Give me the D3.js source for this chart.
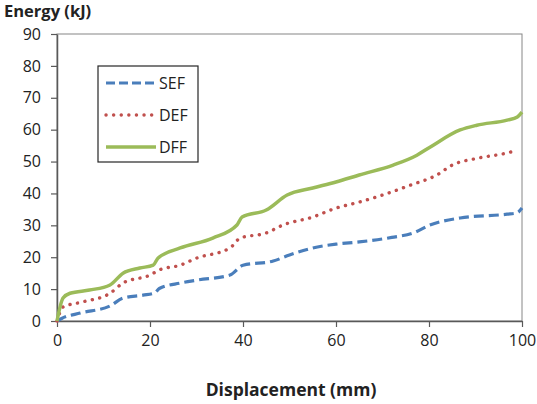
<!DOCTYPE html>
<html>
<head>
<meta charset="utf-8">
<script src="https://cdn.jsdelivr.net/npm/d3@7"></script>
<style>
  body { margin: 0; background: #fff; }
  svg { font-family: "Open Sans", "Noto Sans", sans-serif; }
</style>
</head>
<body>
<svg></svg>
<script>
const width = 537;
const height = 404;
const margin = { top: 34, right: 15, bottom: 83, left: 57 };

const xTicks = [0, 20, 40, 60, 80, 100];
const yTicks = [0, 10, 20, 30, 40, 50, 60, 70, 80, 90];

const sefData = [
  [0, 0], [1, 0.8], [5, 2.5], [11.4, 4.7], [14.2, 7.2], [18.5, 8.1], [21, 8.8], [22, 10.2],
  [26.5, 11.9], [30, 12.8], [37.2, 14.4], [40, 17.5], [46.5, 18.8], [50, 20.7], [55, 22.9],
  [60, 24.1], [65, 24.8], [72, 26.2], [76.6, 27.6], [80.2, 30.1], [86.7, 32.3], [96.8, 33.5],
  [98.9, 33.9], [100, 35.4]
];
const defData = [
  [0, 0], [1.3, 4.4], [5.6, 6], [11.4, 8.7], [14.2, 11.9], [20, 14.4], [22, 16],
  [26.5, 17.5], [30, 19.7], [37.2, 22.9], [39.4, 26], [45, 27.6], [48.6, 30.1], [55, 32.6],
  [60, 35.4], [65, 37.3], [70, 39.5], [76, 42.6], [81.7, 45.8], [85, 48.9], [90.3, 51],
  [96.8, 52.7], [99, 53.6]
];
const dffData = [
  [0, 0], [1.3, 7.2], [2.8, 8.7], [7, 9.7], [11.4, 11.3], [14.2, 15], [17.8, 16.6],
  [20.7, 17.5], [21.7, 19.7], [26.5, 22.9], [33.5, 26], [38.7, 30.1], [39.8, 32.6],
  [45, 34.8], [49.5, 39.5], [55, 41.7], [60, 43.6], [65, 45.8], [72.3, 48.9], [77.4, 52],
  [80.2, 54.5], [86.7, 59.9], [90.3, 61.4], [96.8, 63], [99, 64], [100, 65.5]
];

const series = [
  { name: 'SEF', data: sefData, color: '#4a7ebb', dash: '10,5', width: 3.2, cap: 'butt' },
  { name: 'DEF', data: defData, color: '#c0504d', dash: '0.1,7.5', width: 3.4, cap: 'round' },
  { name: 'DFF', data: dffData, color: '#9bbb59', dash: null, width: 3.5, cap: 'butt' }
];

const svg = d3.select('svg')
  .attr('width', width)
  .attr('height', height);

const xScale = d3.scaleLinear()
  .domain([0, 100])
  .range([margin.left, width - margin.right]);

const yScale = d3.scaleLinear()
  .domain([0, 90])
  .range([height - margin.bottom, margin.top]);

// plot frame
svg.append('rect')
  .attr('x', xScale(0))
  .attr('y', yScale(90))
  .attr('width', xScale(100) - xScale(0))
  .attr('height', yScale(0) - yScale(90))
  .attr('fill', 'none')
  .attr('stroke', '#868686')
  .attr('stroke-width', 1);

const xAxis = d3.axisBottom(xScale)
  .tickValues(xTicks)
  .tickSizeInner(6)
  .tickSizeOuter(0)
  .tickPadding(8);

const yAxis = d3.axisLeft(yScale)
  .tickValues(yTicks)
  .tickSizeInner(6)
  .tickSizeOuter(0)
  .tickPadding(10);

const gx = svg.append('g')
  .attr('transform', `translate(0, ${yScale(0)})`)
  .call(xAxis);

const gy = svg.append('g')
  .attr('transform', `translate(${xScale(0)}, 0)`)
  .call(yAxis);

[gx, gy].forEach(g => {
  g.select('.domain').attr('stroke', '#595959').attr('stroke-width', 1.5);
  g.selectAll('.tick line').attr('stroke', '#595959').attr('stroke-width', 1.2);
  g.selectAll('.tick text')
    .attr('fill', '#222')
    .attr('font-size', 16)
    .attr('font-family', '"Open Sans", sans-serif');
});

const line = d3.line()
  .x(d => xScale(d[0]))
  .y(d => yScale(d[1]))
  .curve(d3.curveMonotoneX);

series.forEach(s => {
  svg.append('path')
    .datum(s.data)
    .attr('fill', 'none')
    .attr('stroke', s.color)
    .attr('stroke-width', s.width)
    .attr('stroke-dasharray', s.dash)
    .attr('stroke-linecap', s.cap)
    .attr('d', line);
});

// legend
const legend = svg.append('g')
  .attr('transform', 'translate(98, 66)');

legend.append('rect')
  .attr('width', 100)
  .attr('height', 96)
  .attr('fill', '#fff')
  .attr('stroke', '#262626')
  .attr('stroke-width', 1.2);

series.forEach((s, i) => {
  const y = 17 + i * 32;
  legend.append('line')
    .attr('x1', 8)
    .attr('x2', 58)
    .attr('y1', y)
    .attr('y2', y)
    .attr('stroke', s.color)
    .attr('stroke-width', s.width)
    .attr('stroke-dasharray', s.dash === '10,5' ? '9,4' : s.dash)
    .attr('stroke-linecap', s.cap);
  legend.append('text')
    .attr('x', 61)
    .attr('y', y)
    .attr('dy', '0.36em')
    .attr('font-size', 16)
    .attr('fill', '#222')
    .text(s.name);
});

svg.append('text')
  .attr('x', 4)
  .attr('y', 17)
  .attr('font-size', 16.5)
  .attr('font-weight', 'bold')
  .attr('fill', '#222')
  .text('Energy (kJ)');

svg.append('text')
  .attr('x', 291)
  .attr('y', 396)
  .attr('text-anchor', 'middle')
  .attr('font-size', 17.5)
  .attr('font-weight', 'bold')
  .attr('fill', '#222')
  .text('Displacement (mm)');
</script>
</body>
</html>
